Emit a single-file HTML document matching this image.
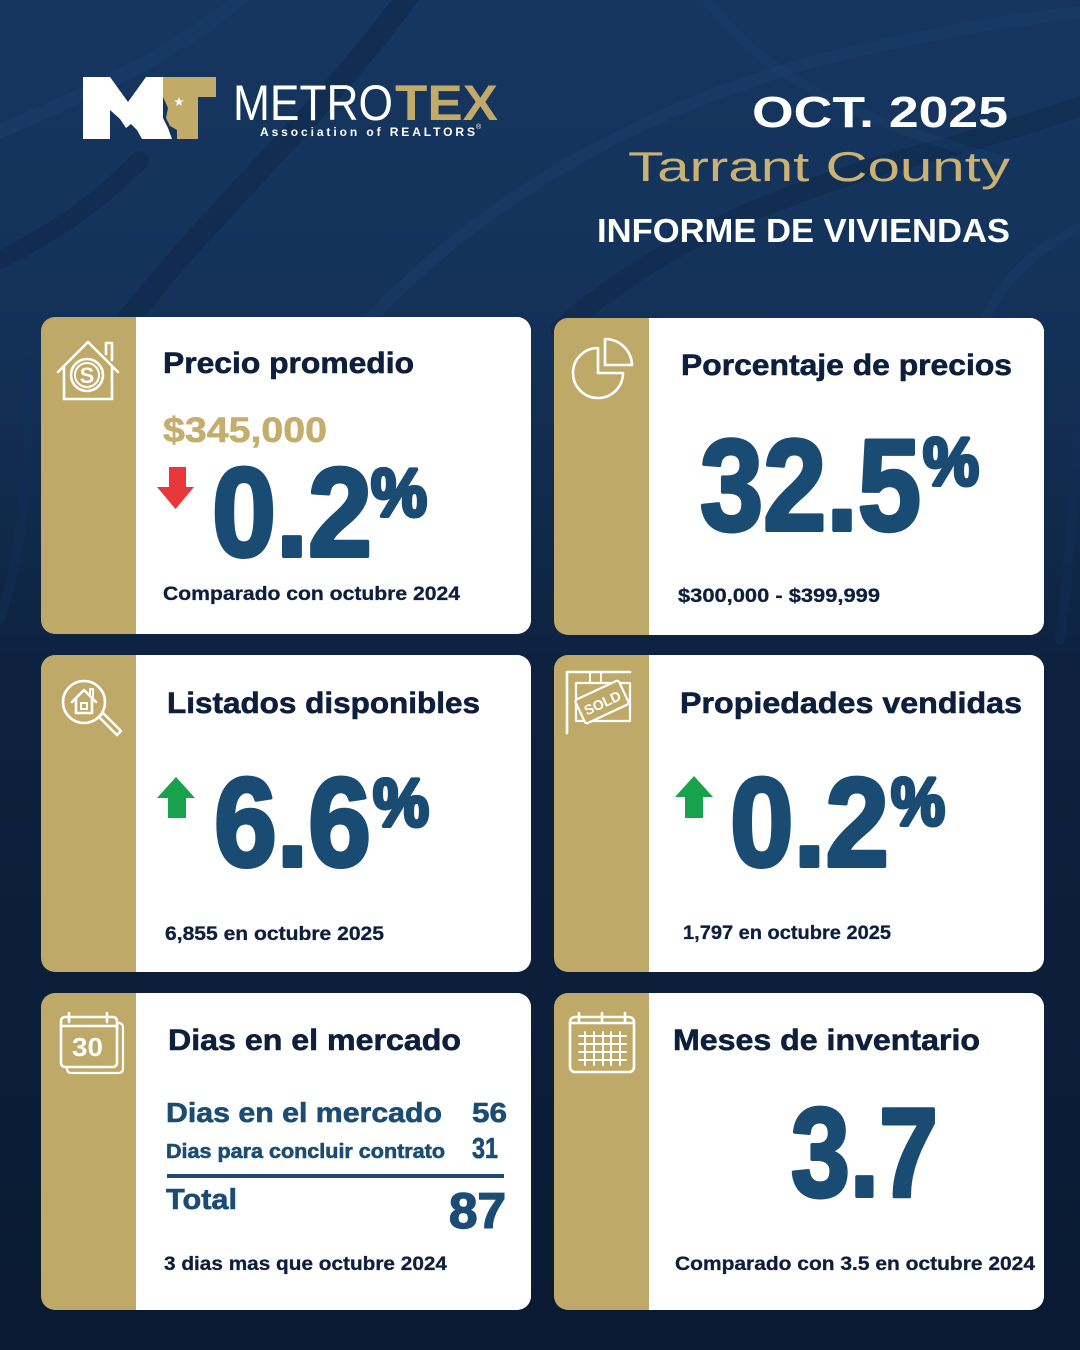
<!DOCTYPE html>
<html>
<head>
<meta charset="utf-8">
<style>
html,body{margin:0;padding:0;background:#0b1b33;}
svg{display:block;}
text{font-family:"Liberation Sans", Arial, sans-serif;}
</style>
</head>
<body>
<svg width="1080" height="1350" viewBox="0 0 1080 1350" xmlns="http://www.w3.org/2000/svg">
  <defs>
    <linearGradient id="bg" x1="0" y1="0" x2="0" y2="1">
      <stop offset="0" stop-color="#15365f"/>
      <stop offset="0.2" stop-color="#14335b"/>
      <stop offset="0.4" stop-color="#102949"/>
      <stop offset="0.5" stop-color="#0d213f"/>
      <stop offset="1" stop-color="#0a1a32"/>
    </linearGradient>
  </defs>
  <rect x="0" y="0" width="1080" height="1350" fill="url(#bg)"/>

  <!-- faint aerial texture -->
  <g fill="none" stroke-linecap="round">
    <path d="M-20 140 C 120 80, 200 40, 260 -20" stroke="#1c416f" stroke-width="14" opacity="0.4"/>
    <path d="M120 330 C 220 200, 320 120, 420 -20" stroke="#0e2646" stroke-width="22" opacity="0.5"/>
    <path d="M360 330 C 450 230, 600 120, 820 60 C 900 40, 1000 20, 1100 10" stroke="#1c416f" stroke-width="12" opacity="0.35"/>
    <path d="M560 330 C 650 250, 760 200, 900 160 C 980 140, 1040 120, 1100 100" stroke="#0e2646" stroke-width="20" opacity="0.45"/>
    <path d="M700 -10 C 760 80, 860 120, 1000 160" stroke="#1c416f" stroke-width="10" opacity="0.3"/>
    <path d="M980 330 C 1000 280, 1040 240, 1100 220" stroke="#1c416f" stroke-width="10" opacity="0.3"/>
    <path d="M0 260 C 60 230, 100 200, 140 160" stroke="#0e2646" stroke-width="18" opacity="0.5"/>
    <path d="M0 620 C 20 560, 30 480, 30 360" stroke="#12305a" stroke-width="10" opacity="0.4"/>
    <path d="M1060 640 C 1070 560, 1075 480, 1080 400" stroke="#12305a" stroke-width="10" opacity="0.4"/>
  </g>

  <!-- LOGO -->
  <path d="M83 77 H110 L128 102 L146 77 H163 V118 L168 128 L172 139 H142 L137 130 L131 124 L126 128 L120 119 L110 110 V139 H83 Z" fill="#ffffff"/>
  <path d="M163 77 H216 V97 H198 V139 H177 V130 L170 126 L166 118 L168 108 L163 97 Z" fill="#c2aa68"/>
  <polygon points="179,97 180.2,100.4 183.8,100.5 180.9,102.6 181.9,106 179,104 176.1,106 177.1,102.6 174.2,100.5 177.8,100.4" fill="#ffffff"/>
  <text x="233" y="120" font-size="50" fill="#ffffff" textLength="160" lengthAdjust="spacingAndGlyphs">METRO</text>
  <text x="395" y="120" font-size="50" font-weight="bold" fill="#c2aa68" textLength="103" lengthAdjust="spacingAndGlyphs">TEX</text>
  <text x="260" y="136" font-size="12" font-weight="bold" fill="#ffffff" textLength="215" lengthAdjust="spacing">Association of REALTORS</text>
  <text x="476" y="129" font-size="7" fill="#ffffff">®</text>

  <!-- HEADER TEXT -->
  <text x="752" y="127" font-size="44" font-weight="bold" fill="#ffffff" textLength="256" lengthAdjust="spacingAndGlyphs">OCT. 2025</text>
  <text x="628" y="181" font-size="42" fill="#c9b273" textLength="382" lengthAdjust="spacingAndGlyphs">Tarrant County</text>
  <text x="597" y="242" font-size="33" font-weight="bold" fill="#ffffff" textLength="413" lengthAdjust="spacingAndGlyphs">INFORME DE VIVIENDAS</text>

  <!-- CARD BASES -->
  <g transform="translate(41,317)">
    <rect x="0" y="0" width="490" height="317" rx="14" fill="#bfa968"/>
    <path d="M95 0 H476 A14 14 0 0 1 490 14 V303 A14 14 0 0 1 476 317 H95 Z" fill="#ffffff"/>
  </g>
  <g transform="translate(554,318)">
    <rect x="0" y="0" width="490" height="317" rx="14" fill="#bfa968"/>
    <path d="M95 0 H476 A14 14 0 0 1 490 14 V303 A14 14 0 0 1 476 317 H95 Z" fill="#ffffff"/>
  </g>
  <g transform="translate(41,655)">
    <rect x="0" y="0" width="490" height="317" rx="14" fill="#bfa968"/>
    <path d="M95 0 H476 A14 14 0 0 1 490 14 V303 A14 14 0 0 1 476 317 H95 Z" fill="#ffffff"/>
  </g>
  <g transform="translate(554,655)">
    <rect x="0" y="0" width="490" height="317" rx="14" fill="#bfa968"/>
    <path d="M95 0 H476 A14 14 0 0 1 490 14 V303 A14 14 0 0 1 476 317 H95 Z" fill="#ffffff"/>
  </g>
  <g transform="translate(41,993)">
    <rect x="0" y="0" width="490" height="317" rx="14" fill="#bfa968"/>
    <path d="M95 0 H476 A14 14 0 0 1 490 14 V303 A14 14 0 0 1 476 317 H95 Z" fill="#ffffff"/>
  </g>
  <g transform="translate(554,993)">
    <rect x="0" y="0" width="490" height="317" rx="14" fill="#bfa968"/>
    <path d="M95 0 H476 A14 14 0 0 1 490 14 V303 A14 14 0 0 1 476 317 H95 Z" fill="#ffffff"/>
  </g>

  <!-- ICONS -->
  <g fill="none" stroke="#ffffff" stroke-width="2.6" stroke-linejoin="round" stroke-linecap="round">
    <!-- house with $ -->
    <path d="M58 372 L88 342 L118 372"/>
    <path d="M106 354 V343 H112 V360"/>
    <path d="M64 366 V399 H112 V366"/>
    <circle cx="87" cy="375" r="16"/>
    <circle cx="87" cy="375" r="12" stroke-width="2"/>
    <!-- pie chart -->
    <path d="M598 348 A25 25 0 1 0 623 373 H598 Z"/>
    <path d="M605 365 V339 A27 27 0 0 1 632 365 Z"/>
    <!-- magnifier house -->
    <circle cx="84" cy="702" r="21"/>
    <path d="M99 717 L103 713 L121 731 L117 735 Z"/>
    <path d="M72 702 L84 690 L96 702"/>
    <path d="M76 699 V713 H92 V699"/>
    <rect x="81" y="703" width="6" height="6" stroke-width="2"/>
    <path d="M90 694 V689 H93 V699" stroke-width="2"/>
    <!-- sold sign -->
    <path d="M567 733 V672 H630"/>
    <path d="M590 672 V683 M601 672 V683" stroke-width="2"/>
    <rect x="576" y="683" width="54" height="38" stroke-width="2.2"/>
    <g transform="rotate(-25 602 702)">
      <rect x="578" y="689" width="48" height="26" rx="2" stroke-width="2.2" fill="#bfa968"/>
    </g>
    <!-- calendar 30 -->
    <rect x="67" y="1023" width="56" height="50" rx="4" stroke-width="2.2"/>
    <rect x="61" y="1017" width="56" height="50" rx="4" fill="#bfa968"/>
    <path d="M69 1013 V1022 M107 1013 V1022"/>
    <path d="M61 1026 H117"/>
    <!-- calendar grid -->
    <rect x="570" y="1017" width="64" height="55" rx="5"/>
    <path d="M579 1013 V1022 M602 1013 V1022 M625 1013 V1022"/>
    <path d="M570 1023 H634"/>
    <path d="M579 1036 H626 M579 1044 H626 M579 1052 H626 M579 1060 H626" stroke-width="2"/>
    <path d="M585 1032 V1065 M594 1032 V1065 M603 1032 V1065 M611 1032 V1065 M620 1032 V1065" stroke-width="2"/>
  </g>
  <text x="87" y="383" font-size="22" font-weight="bold" fill="#ffffff" text-anchor="middle">S</text>
  <text x="602" y="708" font-size="14" font-weight="bold" fill="#ffffff" text-anchor="middle" transform="rotate(-25 602 702)">SOLD</text>
  <text x="72" y="1056" font-size="26" font-weight="bold" fill="#ffffff" textLength="31" lengthAdjust="spacingAndGlyphs">30</text>

  <!-- ARROWS -->
  <rect x="169" y="467" width="17" height="21" fill="#e8363a"/>
  <polygon points="157,487 194,487 175.5,509" fill="#e8363a"/>
  <polygon points="157,798 195,798 176,777" fill="#17a24b"/>
  <rect x="168" y="797" width="18" height="21" fill="#17a24b"/>
  <polygon points="675,797 713,797 694,776" fill="#17a24b"/>
  <rect x="685" y="796" width="18" height="22" fill="#17a24b"/>

  <!-- TITLES -->
  <g font-size="30" font-weight="bold" fill="#0e1f3d" stroke="#0e1f3d" stroke-width="0.6">
    <text x="163" y="373" textLength="251" lengthAdjust="spacingAndGlyphs">Precio promedio</text>
    <text x="681" y="375" textLength="331" lengthAdjust="spacingAndGlyphs">Porcentaje de precios</text>
    <text x="167" y="713" textLength="313" lengthAdjust="spacingAndGlyphs">Listados disponibles</text>
    <text x="680" y="713" textLength="342" lengthAdjust="spacingAndGlyphs">Propiedades vendidas</text>
    <text x="168" y="1050" textLength="293" lengthAdjust="spacingAndGlyphs">Dias en el mercado</text>
    <text x="673" y="1050" textLength="307" lengthAdjust="spacingAndGlyphs">Meses de inventario</text>
  </g>

  <!-- SUBTEXT -->
  <g font-size="19" font-weight="bold" fill="#0e1f3d" stroke="#0e1f3d" stroke-width="0.3">
    <text x="163" y="600" textLength="297" lengthAdjust="spacingAndGlyphs">Comparado con octubre 2024</text>
    <text x="678" y="602" textLength="202" lengthAdjust="spacingAndGlyphs">$300,000 - $399,999</text>
    <text x="165" y="940" textLength="219" lengthAdjust="spacingAndGlyphs">6,855 en octubre 2025</text>
    <text x="683" y="939" textLength="208" lengthAdjust="spacingAndGlyphs">1,797 en octubre 2025</text>
    <text x="164" y="1270" textLength="283" lengthAdjust="spacingAndGlyphs">3 dias mas que octubre 2024</text>
    <text x="675" y="1270" textLength="360" lengthAdjust="spacingAndGlyphs">Comparado con 3.5 en octubre 2024</text>
  </g>

  <!-- GOLD PRICE -->
  <text x="163" y="442" font-size="35" font-weight="bold" fill="#c4ad6d" stroke="#c4ad6d" stroke-width="0.6" textLength="164" lengthAdjust="spacingAndGlyphs">$345,000</text>

  <!-- BIG NUMBERS -->
  <g font-weight="bold" fill="#1a4c73" stroke="#1a4c73" stroke-width="4" stroke-linejoin="round">
    <text x="212" y="556" font-size="126" textLength="160" lengthAdjust="spacingAndGlyphs">0.2</text>
    <text x="371" y="516" font-size="68" textLength="56" lengthAdjust="spacingAndGlyphs">%</text>
    <text x="700" y="530" font-size="130" textLength="221" lengthAdjust="spacingAndGlyphs">32.5</text>
    <text x="923" y="485" font-size="68" textLength="56" lengthAdjust="spacingAndGlyphs">%</text>
    <text x="214" y="866" font-size="126" textLength="157" lengthAdjust="spacingAndGlyphs">6.6</text>
    <text x="373" y="826" font-size="68" textLength="56" lengthAdjust="spacingAndGlyphs">%</text>
    <text x="730" y="866" font-size="126" textLength="159" lengthAdjust="spacingAndGlyphs">0.2</text>
    <text x="891" y="825" font-size="68" textLength="54" lengthAdjust="spacingAndGlyphs">%</text>
    <text x="791" y="1196" font-size="126" textLength="147" lengthAdjust="spacingAndGlyphs">3.7</text>
  </g>

  <!-- DAYS TABLE -->
  <g font-weight="bold" fill="#1b4d74" stroke="#1b4d74" stroke-width="0.6">
    <text x="166" y="1122" font-size="28" textLength="276" lengthAdjust="spacingAndGlyphs">Dias en el mercado</text>
    <text x="472" y="1122" font-size="28" textLength="35" lengthAdjust="spacingAndGlyphs">56</text>
    <text x="166" y="1158" font-size="20" textLength="279" lengthAdjust="spacingAndGlyphs">Dias para concluir contrato</text>
    <text x="472" y="1158" font-size="29" textLength="26" lengthAdjust="spacingAndGlyphs">31</text>
    <rect x="167" y="1174" width="337" height="4" fill="#1b4d74" stroke="none"/>
    <text x="166" y="1209" font-size="29" textLength="71" lengthAdjust="spacingAndGlyphs">Total</text>
    <text x="449" y="1228" font-size="50" stroke-width="1.5" textLength="57" lengthAdjust="spacingAndGlyphs">87</text>
  </g>
</svg>
</body>
</html>
